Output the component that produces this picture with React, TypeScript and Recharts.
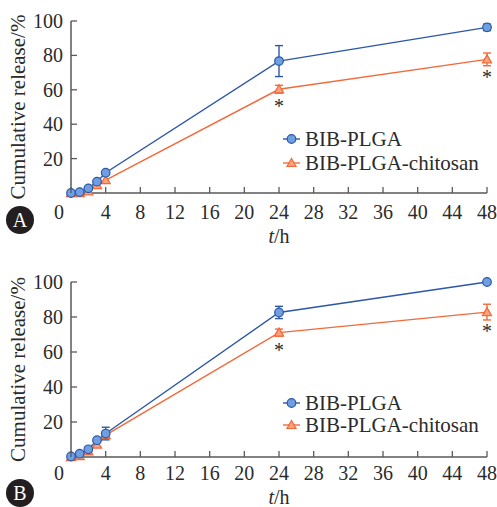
import React from 'react';
import { LineChart, Line, XAxis, YAxis, ErrorBar, LabelList, Legend, Label } from 'recharts';

const hours = [0, 1, 2, 3, 4, 24, 48];
const xTicks = [0, 4, 8, 12, 16, 20, 24, 28, 32, 36, 40, 44, 48];
const yTicks = [0, 20, 40, 60, 80, 100];
const seriesNames = ['BIB-PLGA', 'BIB-PLGA-chitosan'];
const significance = ['', '', '', '', '', '*', '*'];

// Panel A
const plgaA = [0, 0.5, 2.7, 6.6, 11.8, 76.7, 96.3];
const plgaAErr = [0, 0, 0, 0, 0, 9, 1.9];
const chitosanA = [0, 0, 1, 4.6, 7.5, 60.3, 77.7];
const chitosanAErr = [0, 0, 0, 0, 0, 2.3, 3.7];

// Panel B
const plgaB = [0.3, 1.9, 4.4, 9.6, 13.4, 82.6, 100];
const plgaBErr = [0, 0, 0, 0, 3.6, 3.5, 0];
const chitosanB = [0, 0.5, 3.3, 7.1, 12.5, 71.1, 82.8];
const chitosanBErr = [0, 0, 0, 0, 0, 2, 4.5];

const FONT = 'Liberation Serif, Tinos, DejaVu Serif, serif';
const AXIS = '#595959';
const TEXT = '#2b2b2b';
const BLUE = '#2d58a8';
const BLUE_FILL = '#6e9fe0';
const ORANGE = '#f26a3b';
const ORANGE_FILL = '#f9a47c';

const build = (a: number[], aErr: number[], b: number[], bErr: number[]) =>
  hours.map((t, i) => ({
    t,
    plga: a[i],
    plgaErr: aErr[i],
    chit: b[i],
    chitErr: bErr[i],
    sig: significance[i],
  }));

const dataA = build(plgaA, plgaAErr, chitosanA, chitosanAErr);
const dataB = build(plgaB, plgaBErr, chitosanB, chitosanBErr);

const makeXTick = (labelDy: number) => (props: any) => {
  const { x, y, payload } = props;
  const v = payload.value;
  return (
    <g>
      <line x1={x} y1={y} x2={x} y2={y - 6} stroke={AXIS} strokeWidth={1.3} />
      <text x={v === 0 ? x - 12 : x} y={y + labelDy} textAnchor="middle" style={{ fontFamily: FONT }} fontSize={20} fill={TEXT}>
        {v}
      </text>
    </g>
  );
};

const YTick = (props: any) => {
  const { x, y, payload } = props;
  const v = payload.value;
  if (v === 0) return <g />;
  return (
    <g>
      <line x1={x} y1={y} x2={x + 6} y2={y} stroke={AXIS} strokeWidth={1.3} />
      <text x={x - 8} y={y + 7} textAnchor="end" style={{ fontFamily: FONT }} fontSize={20} fill={TEXT}>
        {v}
      </text>
    </g>
  );
};

const Triangle = (props: any) => {
  const { cx, cy, index } = props;
  if (cx == null || cy == null) return <g key={index} />;
  return (
    <polygon
      key={index}
      points={`${cx},${cy - 4.5} ${cx + 4.5},${cy + 3.5} ${cx - 4.5},${cy + 3.5}`}
      fill={ORANGE_FILL}
      stroke={ORANGE}
      strokeWidth={1.3}
    />
  );
};

const makeStar = (offsets: number[]) => (props: any) => {
  const { x, y, value, index } = props;
  if (!value) return null;
  return (
    <text x={x} y={y + offsets[index] + 10} textAnchor="middle" style={{ fontFamily: FONT }} fontSize={20} fill={TEXT}>
      {value}
    </text>
  );
};

const makeXTitle = (dy: number) => (props: any) => {
  const vb = props.viewBox || {};
  const cx = vb.x + vb.width / 2;
  return (
    <text x={cx} y={vb.y + dy} textAnchor="middle" style={{ fontFamily: FONT }} fontSize={20} fill={TEXT}>
      <tspan fontStyle="italic">t</tspan>
      <tspan>/h</tspan>
    </text>
  );
};

const YTitle = (props: any) => {
  const vb = props.viewBox || {};
  const cy = vb.y + vb.height / 2;
  const x = 25;
  return (
    <text
      x={x}
      y={cy}
      textAnchor="middle"
      transform={`rotate(-90, ${x}, ${cy})`}
      style={{ fontFamily: FONT }}
      fontSize={21}
      fill={TEXT}
    >
      Cumulative release/%
    </text>
  );
};

const makeLegend = (lineHeight: number, markerY: number) => () => (
  <div style={{ fontFamily: FONT, fontSize: 21, color: TEXT, lineHeight: `${lineHeight}px` }}>
    {seriesNames.map((name, i) => (
      <div key={name} style={{ display: 'flex', alignItems: 'flex-start', whiteSpace: 'nowrap' }}>
        <svg width={24} height={lineHeight} style={{ display: 'block' }}>
          <line x1={2} y1={markerY} x2={19} y2={markerY} stroke={i === 0 ? BLUE : ORANGE} strokeWidth={1.4} />
          {i === 0 ? (
            <circle cx={10.5} cy={markerY} r={4.3} fill={BLUE_FILL} stroke={BLUE} strokeWidth={1.2} />
          ) : (
            <polygon
              points={`10.5,${markerY - 4.5} 15,${markerY + 3.5} 6,${markerY + 3.5}`}
              fill={ORANGE_FILL}
              stroke={ORANGE}
              strokeWidth={1.2}
            />
          )}
        </svg>
        <span>{name}</span>
      </div>
    ))}
  </div>
);

const Panel = (p: {
  data: any[];
  height: number;
  top: number;
  xHeight: number;
  tickDy: number;
  titleDy: number;
  legendTop: number;
  lineHeight: number;
  markerY: number;
  starOffsets: number[];
}) => {
  const XTick = makeXTick(p.tickDy);
  return (
    <LineChart
      width={497}
      height={p.height}
      data={p.data}
      margin={{ top: p.top, right: 10, left: 0, bottom: 0 }}
      style={{ fontFamily: FONT }}
    >
      <XAxis
        dataKey="t"
        type="number"
        domain={[0, 48]}
        ticks={xTicks}
        interval={0}
        tickSize={0}
        tickMargin={0}
        tick={<XTick />}
        height={p.xHeight}
        axisLine={{ stroke: AXIS, strokeWidth: 1.5 }}
        tickLine={false}
      >
        <Label content={makeXTitle(p.titleDy)} />
      </XAxis>
      <YAxis
        type="number"
        domain={[0, 100]}
        ticks={yTicks}
        interval={0}
        tickSize={0}
        tickMargin={0}
        tick={<YTick />}
        width={71}
        axisLine={{ stroke: AXIS, strokeWidth: 1.5 }}
        tickLine={false}
      >
        <Label content={YTitle} />
      </YAxis>
      <Legend
        layout="vertical"
        align="center"
        verticalAlign="middle"
        content={makeLegend(p.lineHeight, p.markerY)}
        wrapperStyle={{ left: 281, top: p.legendTop, width: 'auto', height: 'auto' }}
      />
      <Line
        dataKey="chit"
        name={seriesNames[1]}
        stroke={ORANGE}
        strokeWidth={1.4}
        isAnimationActive={false}
        dot={<Triangle />}
        activeDot={false}
      >
        <ErrorBar dataKey="chitErr" width={4} stroke={ORANGE} strokeWidth={1.4} direction="y" />
        <LabelList dataKey="sig" content={makeStar(p.starOffsets)} />
      </Line>
      <Line
        dataKey="plga"
        name={seriesNames[0]}
        stroke={BLUE}
        strokeWidth={1.4}
        isAnimationActive={false}
        dot={{ r: 4.3, fill: BLUE_FILL, stroke: BLUE, strokeWidth: 1.2 }}
        activeDot={false}
      >
        <ErrorBar dataKey="plgaErr" width={4} stroke={BLUE} strokeWidth={1.4} direction="y" />
      </Line>
    </LineChart>
  );
};

const Badge = ({ letter, cx, cy }: { letter: string; cx: number; cy: number }) => (
  <div
    style={{
      position: 'absolute',
      left: cx - 14,
      top: cy - 14,
      width: 28,
      height: 28,
      borderRadius: '50%',
      background: '#231f20',
      color: '#fff',
      fontFamily: FONT,
      fontSize: 20,
      lineHeight: '28px',
      textAlign: 'center',
    }}
  >
    {letter}
  </div>
);

export default function App() {
  return (
    <div style={{ position: 'absolute', left: 0, top: 0, width: 497, height: 507, background: '#fff', overflow: 'hidden', fontFamily: FONT }}>
      <div style={{ position: 'absolute', left: 0, top: 0 }}>
        <Panel
          data={dataA}
          height={250}
          top={21}
          xHeight={57}
          tickDy={26}
          titleDy={50}
          legendTop={127}
          lineHeight={24}
          markerY={12}
          starOffsets={[0, 0, 0, 0, 0, 14, 15]}
        />
      </div>
      <div style={{ position: 'absolute', left: 0, top: 250 }}>
        <Panel
          data={dataB}
          height={257}
          top={32}
          xHeight={50}
          tickDy={23}
          titleDy={47}
          legendTop={142}
          lineHeight={22}
          markerY={11}
          starOffsets={[0, 0, 0, 0, 0, 14, 16]}
        />
      </div>
      <Badge letter="A" cx={20} cy={220} />
      <Badge letter="B" cx={20} cy={493} />
    </div>
  );
}
